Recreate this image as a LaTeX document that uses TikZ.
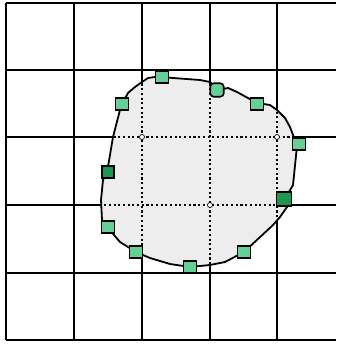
\documentclass[tikz,border=0pt]{standalone}
\usetikzlibrary{positioning}
\definecolor{ptlight}{RGB}{100,208,150}
\definecolor{ptdark}{RGB}{30,150,80}
\tikzset{
  gridline/.style={line width=2.4},
  cutline/.style={line width=2.1,dash pattern=on 2.1 off 2.6},
  lightpt/.style={draw=black,line width=1.6,fill=ptlight,minimum width=13,minimum height=11.5,inner sep=0},
  darkpt/.style={lightpt,fill=ptdark,minimum width=15,minimum height=13.5},
  knot/.style={circle,draw=black,line width=0.7,fill=white,minimum size=5,inner sep=0},
}
\def\blob{(162,77) -- (173,78) -- (200,80) -- (210,82) -- (218,90) -- (228,88) -- (237,92) -- (257,103) -- (270,105) -- (277,110) -- (285,118) -- (290,127) -- (293,135) -- (297,146) -- (293,185) -- (285,199) -- (287,207) -- (280,217) -- (273,225) -- (244,252) -- (225,262) -- (210,265) -- (190,267) -- (170,264) -- (150,258) -- (136,252) -- (120,242) -- (108,228) -- (102,220) -- (101,200) -- (103,180) -- (107,172) -- (110,155) -- (113,137) -- (120,110) -- (122,104) -- (128,93) -- (135,87) -- (142,82) -- (148,78) -- (155,77) -- cycle}

\begin{document}
\begin{tikzpicture}[x=1pt,y=-1pt]
\useasboundingbox (0,0) rectangle (336,344);

% grid
\foreach \x in {6,74,142,210,277}{
\draw[gridline] (\x,3) -- (\x,340);
}
\foreach \y in {3,70,137,205,273,340}{
\draw[gridline] (6,\y) -- (336,\y);
}

% region
\fill[gray!14] \blob;
\begin{scope}
\clip \blob;
\foreach \x in {142,210,277}{
\draw[cutline] (\x,60) -- (\x,290);
}
\foreach \y in {137,205}{
\draw[cutline] (90,\y) -- (310,\y);
}
\end{scope}
\node[knot] (k1) at (142,137) {};
\node[knot] (k2) at (277,137) {};
\node[knot] (k3) at (210,205) {};
\draw[line width=1.8] \blob;

% sample points
\node[lightpt] (p1) at (162,77) {};
\node[lightpt,rounded corners=3.5,minimum width=13.5,minimum height=13.5] (p2) at (217,90) {};
\node[lightpt] (p3) at (257,104) {};
\node[lightpt] (p4) at (299,144) {};
\node[darkpt] (p5) at (284,199) {};
\node[lightpt] (p6) at (244,252) {};
\node[lightpt] (p7) at (190,267) {};
\node[lightpt] (p8) at (136,252) {};
\node[lightpt] (p9) at (108,227) {};
\node[darkpt,minimum width=12,minimum height=12] (p10) at (108,172) {};
\node[lightpt] (p11) at (122,104) {};
\end{tikzpicture}
\end{document}
